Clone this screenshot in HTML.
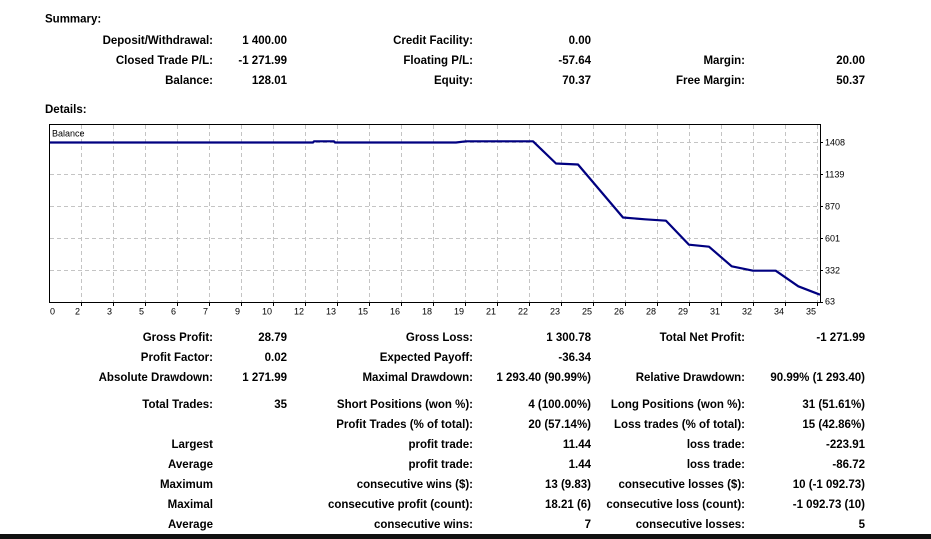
<!DOCTYPE html>
<html>
<head>
<meta charset="utf-8">
<style>
  html,body{margin:0;padding:0;background:#fff;}
  body{width:931px;height:539px;overflow:hidden;}
  svg{display:block;}
  .b{font-family:"Liberation Sans",Arial,sans-serif;font-weight:bold;font-size:11.5px;fill:#000;}
  .s{font-family:"Liberation Sans",Arial,sans-serif;font-size:9px;fill:#000;}
  .e{text-anchor:end;}
</style>
</head>
<body>
<svg width="931" height="539" viewBox="0 0 931 539" xmlns="http://www.w3.org/2000/svg">
  <rect x="0" y="0" width="931" height="539" fill="#fff"/>

  <!-- Summary -->
  <text class="b" x="45" y="22.5">Summary:</text>
  <text class="b e" x="213" y="44">Deposit/Withdrawal:</text>
  <text class="b e" x="287" y="44">1 400.00</text>
  <text class="b e" x="473" y="44">Credit Facility:</text>
  <text class="b e" x="591" y="44">0.00</text>

  <text class="b e" x="213" y="64">Closed Trade P/L:</text>
  <text class="b e" x="287" y="64">-1 271.99</text>
  <text class="b e" x="473" y="64">Floating P/L:</text>
  <text class="b e" x="591" y="64">-57.64</text>
  <text class="b e" x="745" y="64">Margin:</text>
  <text class="b e" x="865" y="64">20.00</text>

  <text class="b e" x="213" y="84">Balance:</text>
  <text class="b e" x="287" y="84">128.01</text>
  <text class="b e" x="473" y="84">Equity:</text>
  <text class="b e" x="591" y="84">70.37</text>
  <text class="b e" x="745" y="84">Free Margin:</text>
  <text class="b e" x="865" y="84">50.37</text>

  <text class="b" x="45" y="113">Details:</text>

  <!-- Chart grid -->
  <g stroke="#c4c4c4" stroke-width="1" stroke-dasharray="4,3" fill="none">
    <line x1="50" y1="142.5" x2="820" y2="142.5"/>
    <line x1="50" y1="174.5" x2="820" y2="174.5"/>
    <line x1="50" y1="206.5" x2="820" y2="206.5"/>
    <line x1="50" y1="238.5" x2="820" y2="238.5"/>
    <line x1="50" y1="270.5" x2="820" y2="270.5"/>
    <line x1="81.5" y1="125" x2="81.5" y2="302"/>
    <line x1="113.5" y1="125" x2="113.5" y2="302"/>
    <line x1="145.5" y1="125" x2="145.5" y2="302"/>
    <line x1="177.5" y1="125" x2="177.5" y2="302"/>
    <line x1="209.5" y1="125" x2="209.5" y2="302"/>
    <line x1="241.5" y1="125" x2="241.5" y2="302"/>
    <line x1="273.5" y1="125" x2="273.5" y2="302"/>
    <line x1="305.5" y1="125" x2="305.5" y2="302"/>
    <line x1="337.5" y1="125" x2="337.5" y2="302"/>
    <line x1="369.5" y1="125" x2="369.5" y2="302"/>
    <line x1="401.5" y1="125" x2="401.5" y2="302"/>
    <line x1="433.5" y1="125" x2="433.5" y2="302"/>
    <line x1="465.5" y1="125" x2="465.5" y2="302"/>
    <line x1="497.5" y1="125" x2="497.5" y2="302"/>
    <line x1="529.5" y1="125" x2="529.5" y2="302"/>
    <line x1="561.5" y1="125" x2="561.5" y2="302"/>
    <line x1="593.5" y1="125" x2="593.5" y2="302"/>
    <line x1="625.5" y1="125" x2="625.5" y2="302"/>
    <line x1="657.5" y1="125" x2="657.5" y2="302"/>
    <line x1="689.5" y1="125" x2="689.5" y2="302"/>
    <line x1="721.5" y1="125" x2="721.5" y2="302"/>
    <line x1="753.5" y1="125" x2="753.5" y2="302"/>
    <line x1="785.5" y1="125" x2="785.5" y2="302"/>
    <line x1="817.5" y1="125" x2="817.5" y2="302"/>
  </g>

  <!-- Balance line -->
  <polyline fill="none" stroke="#000080" stroke-width="2.2" stroke-linejoin="round"
    points="49,142.5 313,142.5 314,141.3 334,141.3 335,142.5 456,142.5 466,141.3 533,141.3 556,163.5 578,164.5 623,217.5 645,219.3 666,220.7 689,244.7 709,246.7 731.7,266.3 753,270.7 775.7,270.7 798.3,286.3 820,294.7"/>

  <!-- Frame -->
  <rect x="49.5" y="124.5" width="771" height="178" fill="none" stroke="#000" stroke-width="1"/>

  <text class="s" x="52" y="136.5">Balance</text>

  <!-- Right ticks -->
  <g stroke="#000" stroke-width="1">
    <line x1="821" y1="142.5" x2="823" y2="142.5"/>
    <line x1="821" y1="174.5" x2="823" y2="174.5"/>
    <line x1="821" y1="206.5" x2="823" y2="206.5"/>
    <line x1="821" y1="238.5" x2="823" y2="238.5"/>
    <line x1="821" y1="270.5" x2="823" y2="270.5"/>
    <line x1="821" y1="302.5" x2="823" y2="302.5"/>
  </g>
  <text class="s" x="825" y="145.5">1408</text>
  <text class="s" x="825" y="177.5">1139</text>
  <text class="s" x="825" y="209.5">870</text>
  <text class="s" x="825" y="241.5">601</text>
  <text class="s" x="825" y="273.5">332</text>
  <text class="s" x="825" y="304.5">63</text>

  <!-- Bottom ticks -->
  <g stroke="#000" stroke-width="1">
    <line x1="81.5" y1="303" x2="81.5" y2="306"/>
    <line x1="113.5" y1="303" x2="113.5" y2="306"/>
    <line x1="145.5" y1="303" x2="145.5" y2="306"/>
    <line x1="177.5" y1="303" x2="177.5" y2="306"/>
    <line x1="209.5" y1="303" x2="209.5" y2="306"/>
    <line x1="241.5" y1="303" x2="241.5" y2="306"/>
    <line x1="273.5" y1="303" x2="273.5" y2="306"/>
    <line x1="305.5" y1="303" x2="305.5" y2="306"/>
    <line x1="337.5" y1="303" x2="337.5" y2="306"/>
    <line x1="369.5" y1="303" x2="369.5" y2="306"/>
    <line x1="401.5" y1="303" x2="401.5" y2="306"/>
    <line x1="433.5" y1="303" x2="433.5" y2="306"/>
    <line x1="465.5" y1="303" x2="465.5" y2="306"/>
    <line x1="497.5" y1="303" x2="497.5" y2="306"/>
    <line x1="529.5" y1="303" x2="529.5" y2="306"/>
    <line x1="561.5" y1="303" x2="561.5" y2="306"/>
    <line x1="593.5" y1="303" x2="593.5" y2="306"/>
    <line x1="625.5" y1="303" x2="625.5" y2="306"/>
    <line x1="657.5" y1="303" x2="657.5" y2="306"/>
    <line x1="689.5" y1="303" x2="689.5" y2="306"/>
    <line x1="721.5" y1="303" x2="721.5" y2="306"/>
    <line x1="753.5" y1="303" x2="753.5" y2="306"/>
    <line x1="785.5" y1="303" x2="785.5" y2="306"/>
    <line x1="817.5" y1="303" x2="817.5" y2="306"/>
  </g>
  <text class="s" x="50" y="314.5">0</text>
  <text class="s e" x="80" y="314.5">2</text>
  <text class="s e" x="112" y="314.5">3</text>
  <text class="s e" x="144" y="314.5">5</text>
  <text class="s e" x="176" y="314.5">6</text>
  <text class="s e" x="208" y="314.5">7</text>
  <text class="s e" x="240" y="314.5">9</text>
  <text class="s e" x="272" y="314.5">10</text>
  <text class="s e" x="304" y="314.5">12</text>
  <text class="s e" x="336" y="314.5">13</text>
  <text class="s e" x="368" y="314.5">15</text>
  <text class="s e" x="400" y="314.5">16</text>
  <text class="s e" x="432" y="314.5">18</text>
  <text class="s e" x="464" y="314.5">19</text>
  <text class="s e" x="496" y="314.5">21</text>
  <text class="s e" x="528" y="314.5">22</text>
  <text class="s e" x="560" y="314.5">23</text>
  <text class="s e" x="592" y="314.5">25</text>
  <text class="s e" x="624" y="314.5">26</text>
  <text class="s e" x="656" y="314.5">28</text>
  <text class="s e" x="688" y="314.5">29</text>
  <text class="s e" x="720" y="314.5">31</text>
  <text class="s e" x="752" y="314.5">32</text>
  <text class="s e" x="784" y="314.5">34</text>
  <text class="s e" x="816" y="314.5">35</text>

  <!-- Details table -->
  <text class="b e" x="213" y="341">Gross Profit:</text>
  <text class="b e" x="287" y="341">28.79</text>
  <text class="b e" x="473" y="341">Gross Loss:</text>
  <text class="b e" x="591" y="341">1 300.78</text>
  <text class="b e" x="745" y="341">Total Net Profit:</text>
  <text class="b e" x="865" y="341">-1 271.99</text>

  <text class="b e" x="213" y="361">Profit Factor:</text>
  <text class="b e" x="287" y="361">0.02</text>
  <text class="b e" x="473" y="361">Expected Payoff:</text>
  <text class="b e" x="591" y="361">-36.34</text>

  <text class="b e" x="213" y="381">Absolute Drawdown:</text>
  <text class="b e" x="287" y="381">1 271.99</text>
  <text class="b e" x="473" y="381">Maximal Drawdown:</text>
  <text class="b e" x="591" y="381">1 293.40 (90.99%)</text>
  <text class="b e" x="745" y="381">Relative Drawdown:</text>
  <text class="b e" x="865" y="381">90.99% (1 293.40)</text>

  <text class="b e" x="213" y="408">Total Trades:</text>
  <text class="b e" x="287" y="408">35</text>
  <text class="b e" x="473" y="408">Short Positions (won %):</text>
  <text class="b e" x="591" y="408">4 (100.00%)</text>
  <text class="b e" x="745" y="408">Long Positions (won %):</text>
  <text class="b e" x="865" y="408">31 (51.61%)</text>

  <text class="b e" x="473" y="428">Profit Trades (% of total):</text>
  <text class="b e" x="591" y="428">20 (57.14%)</text>
  <text class="b e" x="745" y="428">Loss trades (% of total):</text>
  <text class="b e" x="865" y="428">15 (42.86%)</text>

  <text class="b e" x="213" y="448">Largest</text>
  <text class="b e" x="473" y="448">profit trade:</text>
  <text class="b e" x="591" y="448">11.44</text>
  <text class="b e" x="745" y="448">loss trade:</text>
  <text class="b e" x="865" y="448">-223.91</text>

  <text class="b e" x="213" y="468">Average</text>
  <text class="b e" x="473" y="468">profit trade:</text>
  <text class="b e" x="591" y="468">1.44</text>
  <text class="b e" x="745" y="468">loss trade:</text>
  <text class="b e" x="865" y="468">-86.72</text>

  <text class="b e" x="213" y="488">Maximum</text>
  <text class="b e" x="473" y="488">consecutive wins ($):</text>
  <text class="b e" x="591" y="488">13 (9.83)</text>
  <text class="b e" x="745" y="488">consecutive losses ($):</text>
  <text class="b e" x="865" y="488">10 (-1 092.73)</text>

  <text class="b e" x="213" y="508">Maximal</text>
  <text class="b e" x="473" y="508">consecutive profit (count):</text>
  <text class="b e" x="591" y="508">18.21 (6)</text>
  <text class="b e" x="745" y="508">consecutive loss (count):</text>
  <text class="b e" x="865" y="508">-1 092.73 (10)</text>

  <text class="b e" x="213" y="528">Average</text>
  <text class="b e" x="473" y="528">consecutive wins:</text>
  <text class="b e" x="591" y="528">7</text>
  <text class="b e" x="745" y="528">consecutive losses:</text>
  <text class="b e" x="865" y="528">5</text>

  <!-- Bottom dark band -->
  <rect x="0" y="534" width="931" height="5" fill="#111"/>
</svg>
</body>
</html>
